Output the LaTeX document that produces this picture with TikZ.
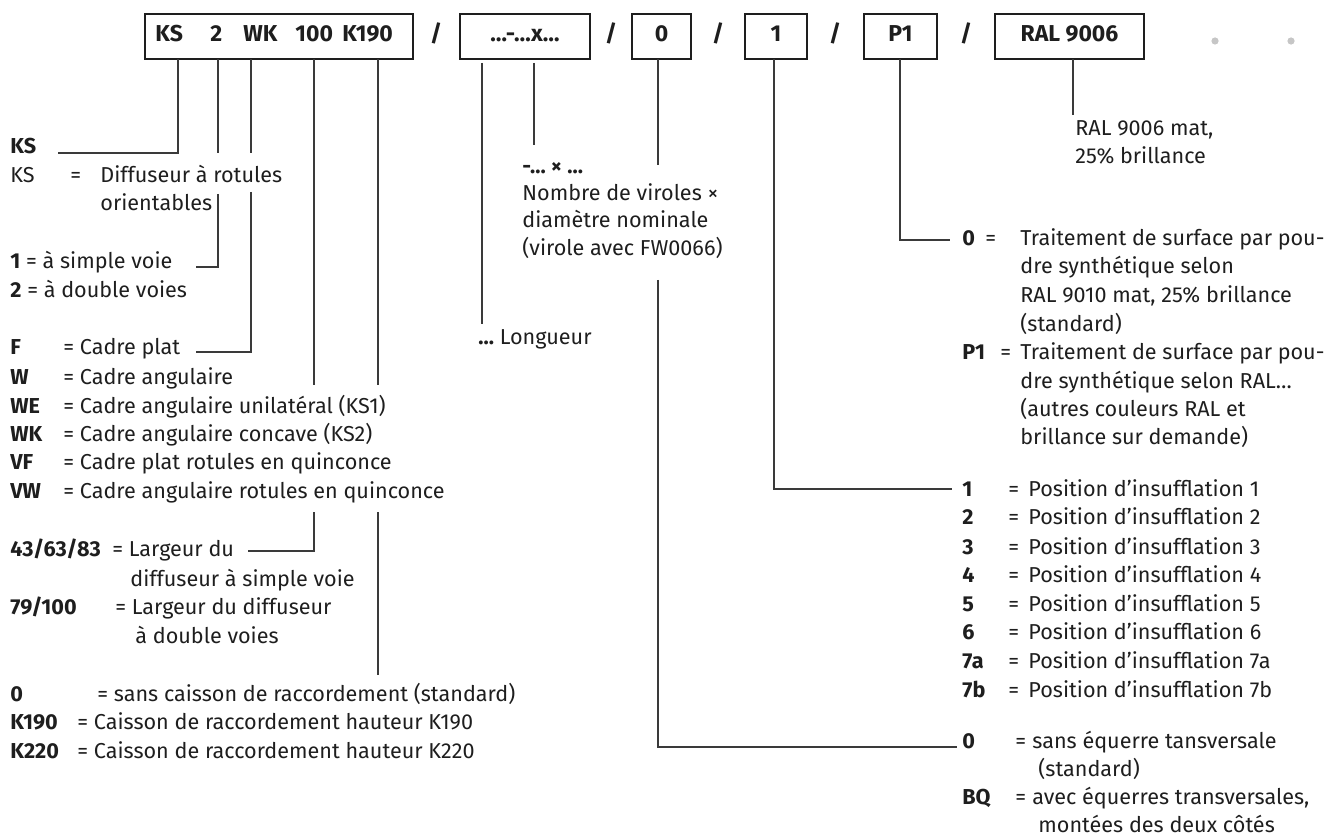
\documentclass[tikz,border=0pt]{standalone}
\usepackage{fontspec}
\setmainfont{Fira Sans}
\definecolor{ink}{HTML}{1E1E1E}
\definecolor{leadc}{HTML}{3A3A3A}
\definecolor{dotc}{HTML}{C6C6C6}
\begin{document}
\begin{tikzpicture}[x=0.5pt,y=-0.5pt,
  txt/.style={anchor=base west, inner sep=0pt, text=ink, font=\fontsize{10.8}{13}\selectfont},
  key/.style={txt, font=\fontsize{10.8}{13}\selectfont\bfseries},
  code/.style={anchor=base west, inner sep=0pt, text=ink, font=\fontsize{11.5}{14}\selectfont\bfseries},
  codec/.style={code, anchor=base},
  codebox/.style={draw=ink, line width=0.7pt, inner sep=0pt, minimum height=22.5pt},
  lead/.style={draw=leadc, line width=0.6pt},
  greydot/.style={circle, fill=dotc, inner sep=0pt, minimum size=3.6pt}
]
\useasboundingbox (0,0) rectangle (1326,839);

% ---------- order code boxes ----------
\node[codebox, minimum width=134pt]  (b1)   at (279,36.5)    {};
\node[codebox, minimum width=65pt]   (b2)   at (525,36.5)    {};
\node[codebox, minimum width=29.5pt] (b3)   at (661.5,36.5)  {};
\node[codebox, minimum width=31pt]   (b4)   at (776,36.5)    {};
\node[codebox, minimum width=36.5pt] (b5)   at (900.5,36.5)  {};
\node[codebox, minimum width=74.5pt] (b6)   at (1069.5,36.5) {};

\node[code] (cKS)   at (155,42) {KS};
\node[code] (c2)    at (210,42) {2};
\node[code] (cWK)   at (243,42) {WK};
\node[code] (c100)  at (295,42) {100};
\node[code] (cK190) at (342,42) {K190};
\node[codec] (cLen) at (b2 |- 0,42)  {…-…x…};
\node[codec] (cBQ)  at (b3 |- 0,42)  {0};
\node[codec] (cPos) at (b4 |- 0,42)  {1};
\node[codec] (cSur) at (b5 |- 0,42)  {P1};
\node[codec] (cRAL) at (b6 |- 0,42)  {RAL 9006};

\node[codec] (s1) at (436,42) {/};
\node[codec] (s2) at (611,42) {/};
\node[codec] (s3) at (718,42) {/};
\node[codec] (s4) at (835,42) {/};
\node[codec] (s5) at (966,42) {/};

\node[greydot] (d1) at (1215,41) {};
\node[greydot] (d2) at (1291,41) {};

% ---------- left column ----------
\node[key] (lKS)   at (10,154)  {KS};
\node[txt] (lKSa)  at (10,183)  {KS};
\node[txt] (lKSb)  at (70,183)  {=};
\node[txt] (lKSc)  at (100,183) {Diffuseur à rotules};
\node[txt] (lKSd)  at (100,211) {orientables};

\node[txt] (l1) at (10,269) {\textbf{1} = à simple voie};
\node[txt] (l2) at (10,298) {\textbf{2} = à double voies};

\node[key] (fF)  at (10,355) {F};
\node[key] (fW)  at (10,384) {W};
\node[key] (fWE) at (10,413) {WE};
\node[key] (fWK) at (10,441) {WK};
\node[key] (fVF) at (10,469) {VF};
\node[key] (fVW) at (10,498) {VW};
\node[txt] (tF)  at (63,355) {= Cadre plat};
\node[txt] (tW)  at (63,384) {= Cadre angulaire};
\node[txt] (tWE) at (63,413) {= Cadre angulaire unilatéral (KS1)};
\node[txt] (tWK) at (63,441) {= Cadre angulaire concave (KS2)};
\node[txt] (tVF) at (63,469) {= Cadre plat rotules en quinconce};
\node[txt] (tVW) at (63,498) {= Cadre angulaire rotules en quinconce};

\node[key] (w1)  at (10,556)  {43/63/83};
\node[txt] (w1a) at (112,556) {= Largeur du};
\node[txt] (w1b) at (130,586) {diffuseur à simple voie};
\node[key] (w2)  at (10,614)  {79/100};
\node[txt] (w2a) at (115,614) {= Largeur du diffuseur};
\node[txt] (w2b) at (135,643) {à double voies};

\node[key] (k0)    at (10,701)  {0};
\node[txt] (k0a)   at (97,701)  {= sans caisson de raccordement (standard)};
\node[key] (k190)  at (10,729)  {K190};
\node[txt] (k190a) at (77,729)  {= Caisson de raccordement hauteur K190};
\node[key] (k220)  at (10,758)  {K220};
\node[txt] (k220a) at (77,758)  {= Caisson de raccordement hauteur K220};

% ---------- middle column ----------
\node[key] (m0) at (522,174) {-… × …};
\node[txt] (m1) at (522,201) {Nombre de viroles ×};
\node[txt] (m2) at (522,228) {diamètre nominale};
\node[txt] (m3) at (522,256) {(virole avec FW0066)};
\node[txt] (mL) at (478,344) {\textbf{…} Longueur};

\node[txt] (r1) at (1075,136) {RAL 9006 mat,};
\node[txt] (r2) at (1075,164) {25\% brillance};

% ---------- right column: surface ----------
\node[key] (p0)  at (962,246)  {0};
\node[txt] (p0e) at (985,246)  {=};
\node[txt] (p0a) at (1020,246) {Traitement de surface par pou-};
\node[txt] (p0b) at (1020,274) {dre synthétique selon};
\node[txt] (p0c) at (1020,303) {RAL 9010 mat, 25\% brillance};
\node[txt] (p0d) at (1020,331) {(standard)};
\node[key] (p1)  at (962,359)  {P1};
\node[txt] (p1e) at (1000,359) {=};
\node[txt] (p1a) at (1020,359) {Traitement de surface par pou-};
\node[txt] (p1b) at (1020,388) {dre synthétique selon RAL…};
\node[txt] (p1c) at (1020,416) {(autres couleurs RAL et};
\node[txt] (p1d) at (1020,444) {brillance sur demande)};

% ---------- right column: blowing position ----------
\foreach \k/\lab/\yy in {1/1/496, 2/2/524, 3/3/554, 4/4/582, 5/5/611, 6/6/639, 7/7a/668, 8/7b/697}{
  \node[key] (q\k)  at (962,\yy)  {\lab};
  \node[txt] (qe\k) at (1008,\yy) {=};
  \node[txt] (qt\k) at (1028,\yy) {Position d’insufflation \lab};
}

% ---------- right column: cross brackets ----------
\node[key] (e0)  at (962,748)  {0};
\node[txt] (e0e) at (1015,748) {=};
\node[txt] (e0a) at (1032,748) {sans équerre tansversale};
\node[txt] (e0b) at (1038,776) {(standard)};
\node[key] (eB)  at (962,804)  {BQ};
\node[txt] (eBe) at (1015,804) {=};
\node[txt] (eBa) at (1032,804) {avec équerres transversales,};
\node[txt] (eBb) at (1038,832) {montées des deux côtés};

% ---------- leader lines ----------
\coordinate (aKS)  at (178,59);   \coordinate (eKS)  at (58,153);
\coordinate (a2)   at (218,59);   \coordinate (a2m)  at (218,153);
\coordinate (a2n)  at (218,194);  \coordinate (e2)   at (196,267);
\coordinate (aWK)  at (251,59);   \coordinate (aWKm) at (251,153);
\coordinate (aWKn) at (251,192);  \coordinate (eWK)  at (196,352);
\coordinate (a100) at (314,59);   \coordinate (a100m) at (314,385);
\coordinate (a100n) at (314,512); \coordinate (e100) at (248,551);
\coordinate (aK)   at (378,59);   \coordinate (aKm)  at (378,385);
\coordinate (aKn)  at (378,512);  \coordinate (eK)   at (378,675);
\coordinate (aL)   at (482,63);   \coordinate (eL)   at (482,324);
\coordinate (aX)   at (534,63);   \coordinate (eX)   at (534,145);
\coordinate (a0)   at (658,59);   \coordinate (a0m)  at (658,165);
\coordinate (a0n)  at (658,280);  \coordinate (e0)   at (957,747);
\coordinate (a1)   at (774,59);   \coordinate (e1)   at (952,489);
\coordinate (aP)   at (900,59);   \coordinate (eP)   at (950,240);
\coordinate (aR)   at (1073,59);  \coordinate (eR)   at (1073,115);

\draw[lead] (aKS) |- (eKS);
\draw[lead] (a2) -- (a2m);
\draw[lead] (a2n) |- (e2);
\draw[lead] (aWK) -- (aWKm);
\draw[lead] (aWKn) |- (eWK);
\draw[lead] (a100) -- (a100m);
\draw[lead] (a100n) |- (e100);
\draw[lead] (aK) -- (aKm);
\draw[lead] (aKn) -- (eK);
\draw[lead] (aL) -- (eL);
\draw[lead] (aX) -- (eX);
\draw[lead] (a0) -- (a0m);
\draw[lead] (a0n) |- (e0);
\draw[lead] (a1) |- (e1);
\draw[lead] (aP) |- (eP);
\draw[lead] (aR) -- (eR);
\end{tikzpicture}
\end{document}
